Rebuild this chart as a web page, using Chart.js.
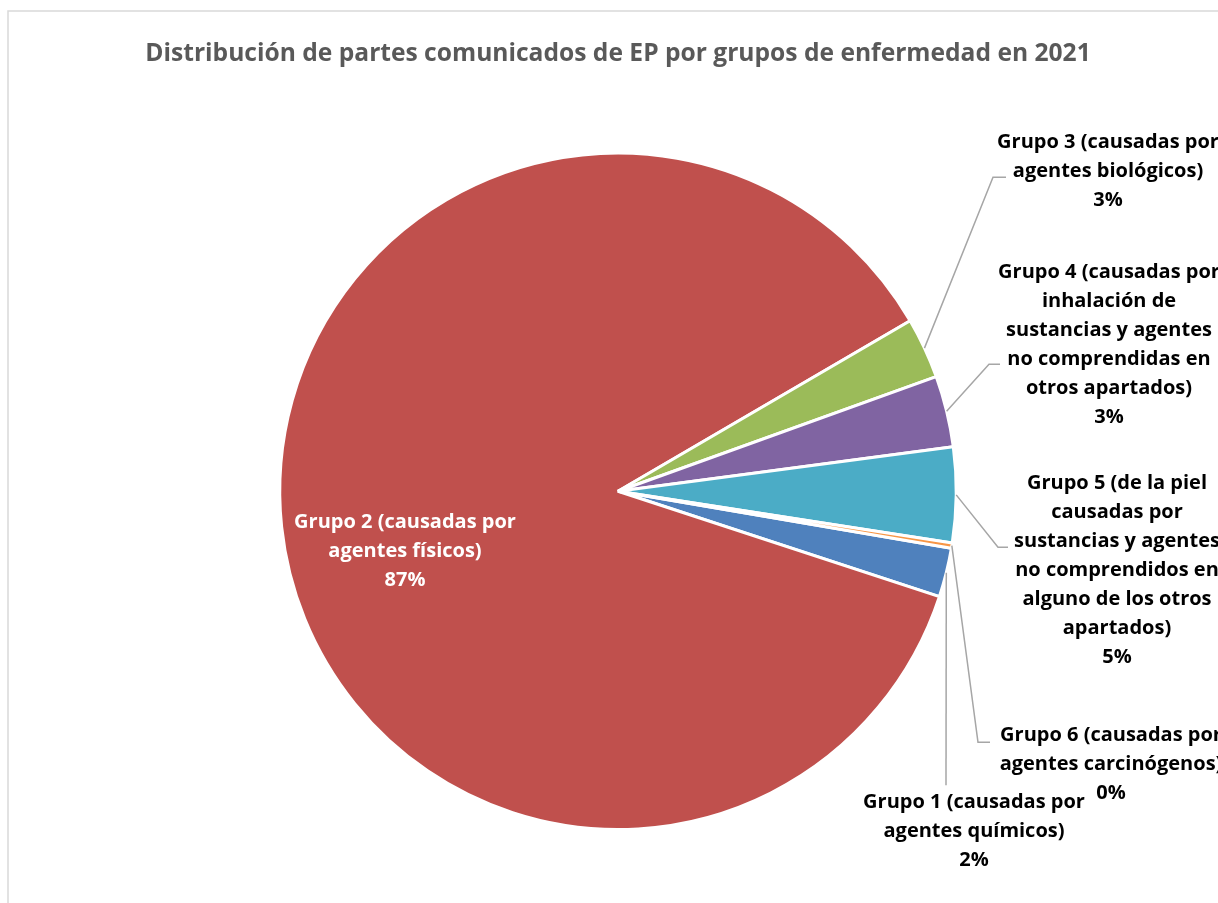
<!DOCTYPE html>
<html>
<head>
<meta charset="utf-8">
<script src="https://cdn.jsdelivr.net/npm/chart.js@4"></script>
<style>
  html, body { margin: 0; padding: 0; background: #fff; }
  #wrap { width: 1218px; height: 903px; }
</style>
</head>
<body>
<div id="wrap"><canvas id="pieChart"></canvas></div>
<script>
// categories (one entry per slice, split into the lines shown on the chart)
const categories = [
    ['Grupo 1 (causadas por', 'agentes químicos)'],
    ['Grupo 2 (causadas por', 'agentes físicos)'],
    ['Grupo 3 (causadas por', 'agentes biológicos)'],
    ['Grupo 4 (causadas por', 'inhalación de', 'sustancias y agentes', 'no comprendidas en', 'otros apartados)'],
    ['Grupo 5 (de la piel', 'causadas por', 'sustancias y agentes', 'no comprendidos en', 'alguno de los otros', 'apartados)'],
    ['Grupo 6 (causadas por', 'agentes carcinógenos)']
];
// share of reports (%)
const shares = [2.35, 86.55, 2.9, 3.4, 4.55, 0.25];
const sliceColors = ['#4F81BD', '#C0504D', '#9BBB59', '#8064A2', '#4BACC6', '#F79646'];

const chartTitle = 'Distribución de partes comunicados de EP por grupos de enfermedad en 2021';

// label placement, relative to the pie centre (dx, dy = first text line)
const labelLayout = [
    { dx: 356, dy: 311, color: '#000', leader: [[328, 294]] },
    { dx: -213, dy: 31, color: '#fff', leader: null },
    { dx: 490, dy: -349, color: '#000', leader: [[375, -314], [388, -314]] },
    { dx: 491, dy: -219, color: '#000', leader: [[371, -127], [382, -127]] },
    { dx: 499, dy: -8, color: '#000', leader: [[380, 56], [390, 56]] },
    { dx: 493, dy: 244, color: '#000', leader: [[360, 251], [372, 251]] }
];

const FONT = '"Open Sans", Lato, sans-serif';

const framePlugin = {
    id: 'frame',
    beforeDraw(chart) {
        const ctx = chart.ctx;
        ctx.save();
        ctx.strokeStyle = '#d9d9d9';
        ctx.lineWidth = 1.5;
        ctx.strokeRect(8, 11, 2000, 2000);
        ctx.restore();
    }
};

const sliceLabels = {
    id: 'sliceLabels',
    afterDatasetsDraw(chart) {
        const ctx = chart.ctx;
        const meta = chart.getDatasetMeta(0);
        const data = chart.data.datasets[0].data;
        const total = data.reduce((a, b) => a + b, 0);
        ctx.save();
        meta.data.forEach((arc, i) => {
            const p = arc.getProps(['x', 'y', 'startAngle', 'endAngle', 'outerRadius'], true);
            const cfg = labelLayout[i];
            const mid = (p.startAngle + p.endAngle) / 2;

            if (cfg.leader) {
                ctx.beginPath();
                ctx.strokeStyle = '#a6a6a6';
                ctx.lineWidth = 1.5;
                ctx.moveTo(p.x + Math.cos(mid) * p.outerRadius, p.y + Math.sin(mid) * p.outerRadius);
                cfg.leader.forEach(pt => ctx.lineTo(p.x + pt[0], p.y + pt[1]));
                ctx.stroke();
            }

            const lines = categories[i].concat([Math.round(data[i] / total * 100) + '%']);
            ctx.fillStyle = cfg.color;
            ctx.font = 'bold 20px ' + FONT;
            ctx.textAlign = 'center';
            ctx.textBaseline = 'middle';
            lines.forEach((t, k) => {
                ctx.fillText(t, p.x + cfg.dx, p.y + cfg.dy + k * 29);
            });
        });
        ctx.restore();
    }
};

new Chart(document.getElementById('pieChart'), {
    type: 'pie',
    data: {
        labels: categories,
        datasets: [{
            data: shares,
            backgroundColor: sliceColors,
            borderColor: '#ffffff',
            borderWidth: 3
        }]
    },
    options: {
        responsive: true,
        maintainAspectRatio: false,
        animation: false,
        events: [],
        rotation: 99.7,
        layout: { padding: { top: 0, left: 18, right: 0, bottom: 72 } },
        plugins: {
            legend: { display: false },
            tooltip: { enabled: false },
            title: {
                display: true,
                text: chartTitle,
                color: '#595959',
                font: { family: FONT, size: 24.6, weight: 'bold', lineHeight: 1.2 },
                padding: { top: 39, bottom: 83 }
            }
        }
    },
    plugins: [framePlugin, sliceLabels]
});
</script>
</body>
</html>
